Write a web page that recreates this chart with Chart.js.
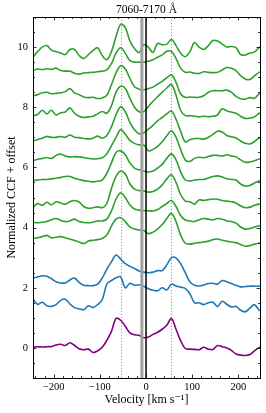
<!DOCTYPE html>
<html>
<head>
<meta charset="utf-8">
<script src="https://cdn.jsdelivr.net/npm/chart.js@4.4.1/dist/chart.umd.min.js"></script>
<style>
  html, body { margin: 0; padding: 0; background: #fff; }
  #wrap { width: 266px; height: 413px; }
</style>
</head>
<body>
<div id="wrap"><canvas id="chart"></canvas></div>
<script>
const plotTitle = '7060-7170 \u00c5';
const xTitle = 'Velocity [km s\u207b\u00b9]';
const yTitle = 'Normalized CCF + offset';

const xTicks = [-200, -100, 0, 100, 200];
const yTicks = [0, 2, 4, 6, 8, 10];
const peakLines = [-53, 55];
const grayLine = -9;
const blackLine = 0;

// velocity grid (km/s)
const velocities = [-245, -235, -225, -215, -205, -195, -185, -175, -165, -155, -145, -135, -125, -115, -105, -95, -85, -75, -65, -55, -45, -35, -25, -15, -5,
  5, 15, 25, 35, 45, 55, 65, 75, 85, 95, 105, 115, 125, 135, 145, 155, 165, 175, 185, 195, 205, 215, 225, 235, 245, 255];

const purple = [0.02, 0.04, 0.03, 0.04, 0.05, 0.10, 0.12, 0.08, 0.17, 0.08, -0.03, -0.06, -0.04, -0.15, -0.10, 0.02, 0.25, 0.55, 0.98, 0.92, 0.72, 0.50, 0.44, 0.42, 0.34,
  0.36, 0.45, 0.52, 0.62, 0.75, 0.98, 0.62, 0.24, -0.02, -0.04, -0.05, -0.06, 0.02, -0.04, -0.05, 0.08, 0.04, 0.00, -0.08, -0.20, -0.24, -0.25, -0.22, -0.10, 0.01, 0.05];

const blue1 = [1.63, 1.45, 1.52, 1.40, 1.38, 1.44, 1.58, 1.62, 1.46, 1.34, 1.30, 1.27, 1.40, 1.34, 1.44, 1.60, 2.12, 2.24, 2.33, 2.36, 2.00, 2.15, 2.08, 2.10, 2.05,
  1.97, 1.92, 1.90, 2.00, 1.93, 2.12, 2.06, 2.02, 1.98, 1.80, 1.50, 1.50, 1.44, 1.50, 1.52, 1.38, 1.55, 1.45, 1.36, 1.38, 1.25, 1.20, 1.32, 1.44, 1.26, 1.20];

const blue2 = [2.32, 2.36, 2.40, 2.38, 2.30, 2.20, 2.16, 2.16, 2.26, 2.32, 2.18, 2.08, 2.07, 2.07, 2.12, 2.32, 2.62, 2.86, 3.09, 2.95, 2.80, 2.71, 2.64, 2.56, 2.52,
  2.50, 2.52, 2.57, 2.57, 2.76, 3.00, 2.99, 2.80, 2.50, 2.20, 2.08, 2.06, 2.09, 2.14, 2.15, 2.12, 2.24, 2.20, 2.14, 2.08, 2.03, 2.04, 2.05, 2.06, 2.05, 2.03];

const green10 = [3.64, 3.66, 3.70, 3.74, 3.66, 3.68, 3.70, 3.66, 3.62, 3.57, 3.52, 3.47, 3.55, 3.58, 3.60, 3.64, 3.75, 4.05, 4.28, 4.33, 4.20, 4.02, 3.95, 3.92, 3.90,
  3.80, 3.85, 3.95, 4.10, 4.30, 4.48, 4.20, 3.75, 3.48, 3.45, 3.48, 3.50, 3.52, 3.55, 3.60, 3.62, 3.58, 3.55, 3.52, 3.50, 3.44, 3.38, 3.40, 3.45, 3.48, 3.50];

const green9 = [4.18, 4.16, 4.18, 4.20, 4.26, 4.30, 4.24, 4.20, 4.22, 4.28, 4.20, 4.17, 4.16, 4.18, 4.22, 4.22, 4.28, 4.55, 4.95, 5.16, 5.00, 4.75, 4.62, 4.58, 4.56,
  4.56, 4.55, 4.60, 4.70, 4.80, 4.90, 4.70, 4.40, 4.25, 4.22, 4.20, 4.26, 4.30, 4.28, 4.26, 4.30, 4.28, 4.22, 4.20, 4.15, 4.02, 3.95, 3.97, 4.02, 4.06, 4.08];

const green8 = [4.67, 4.80, 4.74, 4.84, 4.76, 4.86, 4.82, 4.78, 4.86, 4.90, 4.85, 4.70, 4.64, 4.66, 4.69, 4.66, 4.80, 5.30, 5.70, 5.88, 5.78, 5.45, 5.28, 5.23, 5.22,
  5.18, 5.20, 5.28, 5.42, 5.62, 5.76, 5.50, 5.10, 4.88, 4.86, 4.78, 4.92, 4.90, 4.93, 4.95, 4.94, 4.90, 4.88, 4.86, 4.82, 4.72, 4.66, 4.68, 4.74, 4.78, 4.80];

const green7 = [5.56, 5.58, 5.60, 5.60, 5.62, 5.64, 5.67, 5.70, 5.70, 5.64, 5.60, 5.56, 5.54, 5.52, 5.54, 5.58, 5.80, 6.15, 6.50, 6.55, 6.42, 6.15, 5.98, 5.92, 5.88,
  5.85, 5.88, 5.98, 6.10, 6.30, 6.45, 6.25, 5.85, 5.58, 5.55, 5.58, 5.60, 5.60, 5.65, 5.70, 5.72, 5.68, 5.62, 5.60, 5.58, 5.45, 5.38, 5.40, 5.48, 5.55, 5.58];

const green6 = [6.22, 6.27, 6.30, 6.33, 6.30, 6.40, 6.44, 6.38, 6.35, 6.36, 6.35, 6.33, 6.30, 6.28, 6.29, 6.32, 6.45, 6.72, 7.00, 7.26, 7.10, 6.90, 6.80, 6.75, 6.75,
  6.55, 6.60, 6.70, 6.85, 7.05, 7.22, 7.00, 6.60, 6.25, 6.20, 6.30, 6.34, 6.32, 6.36, 6.40, 6.40, 6.38, 6.42, 6.38, 6.35, 6.25, 6.17, 6.18, 6.22, 6.28, 6.30];

const green5 = [6.88, 6.93, 6.97, 7.03, 7.00, 7.00, 7.03, 7.00, 7.08, 7.00, 6.99, 6.96, 6.95, 6.97, 7.04, 6.97, 7.06, 7.35, 7.75, 8.02, 7.85, 7.50, 7.25, 7.12, 7.15,
  7.27, 7.40, 7.55, 7.66, 7.78, 7.88, 7.60, 7.20, 6.85, 6.92, 6.96, 6.96, 6.94, 7.00, 7.10, 7.20, 7.18, 7.06, 7.02, 6.98, 6.88, 6.80, 6.78, 6.86, 6.98, 7.02];

const green4 = [7.72, 7.76, 7.90, 7.78, 7.90, 7.74, 7.82, 7.84, 7.98, 7.80, 7.70, 7.66, 7.68, 7.70, 7.78, 7.86, 7.80, 8.05, 8.50, 8.70, 8.62, 8.30, 8.00, 7.85, 7.86,
  8.02, 8.20, 8.35, 8.50, 8.64, 8.76, 8.40, 7.90, 7.72, 7.72, 7.71, 7.68, 7.70, 7.69, 7.70, 7.75, 7.95, 7.88, 7.84, 7.80, 7.70, 7.63, 7.64, 7.68, 7.80, 7.86];

const green3 = [8.38, 8.42, 8.48, 8.50, 8.45, 8.46, 8.48, 8.52, 8.62, 8.48, 8.42, 8.34, 8.32, 8.33, 8.29, 8.31, 8.40, 8.75, 9.14, 9.38, 9.27, 8.96, 8.68, 8.60, 8.58,
  8.62, 8.67, 8.77, 8.86, 8.98, 9.08, 8.83, 8.44, 8.33, 8.34, 8.33, 8.33, 8.38, 8.50, 8.55, 8.55, 8.55, 8.57, 8.50, 8.36, 8.28, 8.27, 8.32, 8.30, 8.45, 8.50];

const green2 = [9.21, 9.27, 9.25, 9.28, 9.26, 9.30, 9.22, 9.20, 9.20, 9.13, 9.10, 9.14, 9.15, 9.16, 9.18, 9.20, 9.24, 9.45, 9.80, 9.98, 9.80, 9.55, 9.50, 9.50, 9.50,
  9.53, 9.58, 9.66, 9.74, 9.86, 9.86, 9.62, 9.30, 9.16, 9.17, 9.13, 9.12, 9.18, 9.16, 9.15, 9.16, 9.24, 9.32, 9.30, 9.22, 9.05, 8.94, 8.92, 9.04, 9.16, 9.20];

const green1 = [9.66, 9.85, 10.00, 10.05, 9.90, 9.85, 9.80, 9.75, 9.92, 9.92, 9.72, 9.62, 9.75, 9.88, 9.98, 9.72, 9.58, 9.85, 10.35, 10.76, 10.65, 10.20, 9.95, 9.82, 10.08,
  10.00, 9.82, 10.12, 10.08, 10.10, 10.25, 10.05, 9.80, 9.68, 9.85, 10.15, 10.00, 9.92, 10.05, 10.22, 10.20, 10.10, 10.00, 10.02, 9.98, 9.75, 9.74, 9.80, 9.84, 9.98, 10.05];

const seriesList = [purple, blue1, blue2, green10, green9, green8, green7, green6, green5, green4, green3, green2, green1];
const seriesColors = ['#800080', '#1f77b4', '#1f77b4', '#2ca02c', '#2ca02c', '#2ca02c', '#2ca02c', '#2ca02c', '#2ca02c', '#2ca02c', '#2ca02c', '#2ca02c', '#2ca02c'];

const X_MIN = -245, X_MAX = 247, Y_MIN = -1, Y_MAX = 11;
const serif = '"Liberation Serif", "DejaVu Serif", serif';

function vline(v, color, width, dash) {
  return {
    type: 'line',
    data: [{x: v, y: Y_MIN}, {x: v, y: Y_MAX}],
    borderColor: color,
    borderWidth: width,
    borderDash: dash,
    pointRadius: 0,
    fill: false
  };
}

function fmt(v) {
  return v < 0 ? '\u2212' + Math.abs(v) : String(v);
}

// frame, inward ticks on all four sides, and the title
const axesFrame = {
  id: 'axesFrame',
  afterDraw(chart) {
    const {ctx, chartArea: a, scales: {x, y}} = chart;
    ctx.save();
    ctx.strokeStyle = '#000';
    ctx.lineWidth = 0.8;
    ctx.beginPath();
    for (let v = -240; v <= X_MAX; v += 20) {
      const p = Math.round(x.getPixelForValue(v)) + 0.5;
      const len = xTicks.includes(v) ? 3.5 : 2;
      ctx.moveTo(p, a.bottom); ctx.lineTo(p, a.bottom - len);
      ctx.moveTo(p, a.top); ctx.lineTo(p, a.top + len);
    }
    for (let v = Y_MIN; v <= Y_MAX; v += 0.5) {
      const p = Math.round(y.getPixelForValue(v)) + 0.5;
      const len = yTicks.includes(v) ? 3.5 : 2;
      ctx.moveTo(a.left, p); ctx.lineTo(a.left + len, p);
      ctx.moveTo(a.right, p); ctx.lineTo(a.right - len, p);
    }
    ctx.stroke();
    ctx.lineWidth = 1;
    ctx.strokeRect(Math.round(a.left) + 0.5, Math.round(a.top) + 0.5, Math.round(a.right - a.left), Math.round(a.bottom - a.top));
    ctx.fillStyle = '#000';
    ctx.font = '11.5px ' + serif;
    ctx.textAlign = 'center';
    ctx.textBaseline = 'middle';
    ctx.fillText(plotTitle, (a.left + a.right) / 2, 10);
    ctx.restore();
  }
};

const datasets = [
  vline(blackLine, '#000000', 1.5, []),
  vline(grayLine, '#a0a0a0', 3, [])
];
seriesList.forEach((s, i) => {
  datasets.push({
    type: 'line',
    data: velocities.map((v, j) => ({x: v, y: s[j]})),
    borderColor: seriesColors[i],
    borderWidth: 1.6,
    pointRadius: 0,
    tension: 0.35,
    fill: false
  });
});
peakLines.forEach(v => datasets.push(vline(v, '#999999', 1, [1.2, 1.8])));

new Chart(document.getElementById('chart'), {
  type: 'line',
  data: {datasets: datasets},
  options: {
    responsive: true,
    maintainAspectRatio: false,
    animation: false,
    devicePixelRatio: 1,
    layout: {padding: {top: 17, right: 6, left: 0, bottom: 0}},
    plugins: {legend: {display: false}, tooltip: {enabled: false}},
    scales: {
      x: {
        type: 'linear',
        min: X_MIN,
        max: X_MAX,
        grid: {display: false, drawTicks: false},
        border: {display: false},
        afterBuildTicks: (scale) => { scale.ticks = xTicks.map(v => ({value: v})); },
        afterFit: (scale) => { scale.height = 35; },
        ticks: {
          padding: 3,
          maxRotation: 0,
          color: '#000',
          font: {family: serif, size: 10.5},
          callback: (v) => fmt(v)
        },
        title: {
          display: true,
          text: xTitle,
          color: '#000',
          font: {family: serif, size: 12},
          padding: {top: 0, bottom: 6}
        }
      },
      y: {
        type: 'linear',
        min: Y_MIN,
        max: Y_MAX,
        grid: {display: false, drawTicks: false},
        border: {display: false},
        afterBuildTicks: (scale) => { scale.ticks = yTicks.map(v => ({value: v})); },
        afterFit: (scale) => { scale.width = 33; },
        ticks: {
          padding: 5,
          color: '#000',
          font: {family: serif, size: 10.5},
          callback: (v) => fmt(v)
        },
        title: {
          display: true,
          text: yTitle,
          color: '#000',
          font: {family: serif, size: 12},
          padding: {top: 5, bottom: 0}
        }
      }
    }
  },
  plugins: [axesFrame]
});
</script>
</body>
</html>
